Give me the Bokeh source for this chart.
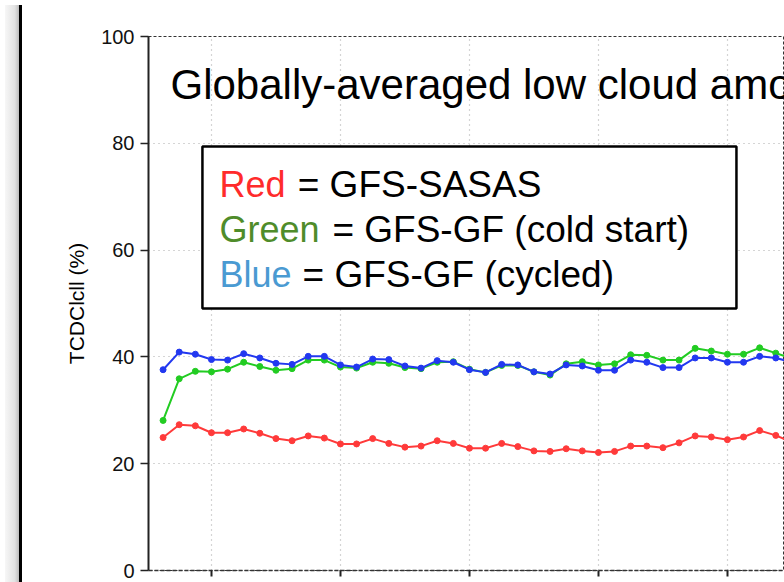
from bokeh.plotting import figure
from bokeh.models import Label, BoxAnnotation, FixedTicker, Div
from bokeh.layouts import row
from bokeh.embed import file_html
from bokeh.resources import INLINE

# data: 6-hourly steps (index), globally-averaged low cloud amount (%)
steps = list(range(40))
red = [24.9, 27.3, 27.1, 25.8, 25.8, 26.5, 25.7, 24.7, 24.3, 25.2,
       24.8, 23.7, 23.7, 24.7, 23.8, 23.1, 23.3, 24.3, 23.8, 22.9,
       22.9, 23.8, 23.2, 22.4, 22.3, 22.8, 22.4, 22.1, 22.3, 23.3,
       23.3, 23.0, 23.9, 25.2, 25.0, 24.5, 25.0, 26.2, 25.3, 24.0]
green = [28.1, 35.9, 37.3, 37.2, 37.7, 39.0, 38.2, 37.5, 37.8, 39.4,
         39.4, 38.1, 37.9, 39.0, 38.8, 38.0, 37.8, 39.0, 39.1, 37.7,
         37.1, 38.4, 38.4, 37.2, 36.6, 38.7, 39.1, 38.5, 38.7, 40.4,
         40.3, 39.4, 39.4, 41.6, 41.1, 40.5, 40.5, 41.7, 40.7, 39.7]
blue = [37.6, 40.9, 40.5, 39.5, 39.4, 40.6, 39.8, 38.8, 38.6, 40.1,
        40.1, 38.5, 38.1, 39.6, 39.5, 38.3, 37.9, 39.3, 39.0, 37.6,
        37.1, 38.6, 38.5, 37.2, 36.8, 38.5, 38.3, 37.5, 37.5, 39.4,
        39.0, 38.0, 38.0, 39.8, 39.8, 39.0, 39.0, 40.1, 39.8, 39.0]
x_ticks = [3, 11, 19, 27, 35]
y_ticks = [0, 20, 40, 60, 80, 100]

title_text = "Globally-averaged low cloud amount"
legend_words = ["Red", "Green", "Blue"]
legend_rest = ["= GFS-SASAS", "= GFS-GF (cold start)", "= GFS-GF (cycled)"]
legend_colors = ["#ff2b2b", "#4f8c2a", "#4a9ad2"]

p = figure(width=757, height=582, x_range=(-0.905, 38.54), y_range=(0, 100),
           output_backend="svg", toolbar_location=None,
           min_border_left=121, min_border_right=0, min_border_top=36,
           min_border_bottom=12)

p.outline_line_color = "#333333"
p.outline_line_dash = "3 2"
p.outline_line_width = 1

# axes
p.yaxis.ticker = FixedTicker(ticks=y_ticks)
p.yaxis.axis_line_color = "#222222"
p.yaxis.axis_line_width = 2
p.yaxis.major_tick_out = 8
p.yaxis.major_tick_in = 0
p.yaxis.major_tick_line_width = 1.5
p.yaxis.major_tick_line_color = "#222222"
p.yaxis.minor_tick_line_color = None
p.yaxis.major_label_text_font = "Liberation Sans"
p.yaxis.major_label_text_font_size = "20px"
p.yaxis.major_label_text_color = "#111111"
p.yaxis.major_label_standoff = 6
p.yaxis.axis_label = "TCDClcll (%)"
p.yaxis.axis_label_text_font = "Liberation Sans"
p.yaxis.axis_label_text_font_style = "normal"
p.yaxis.axis_label_text_font_size = "21px"
p.yaxis.axis_label_text_color = "#000000"
p.yaxis.axis_label_standoff = 10

p.xaxis.ticker = FixedTicker(ticks=x_ticks)
p.xaxis.major_label_overrides = {t: "" for t in x_ticks}
p.xaxis.major_label_text_font_size = "0px"
p.xaxis.major_label_standoff = 0
p.xaxis.axis_line_color = "#333333"
p.xaxis.axis_line_dash = "4 2"
p.xaxis.axis_line_width = 1.5
p.xaxis.major_tick_out = 6
p.xaxis.major_tick_in = 0
p.xaxis.major_tick_line_width = 2
p.xaxis.major_tick_line_color = "#222222"
p.xaxis.minor_tick_line_color = None

p.xgrid.ticker = FixedTicker(ticks=x_ticks)
p.ygrid.ticker = FixedTicker(ticks=y_ticks)
for g in (p.xgrid, p.ygrid):
    g.grid_line_color = "#aaaaaa"
    g.grid_line_dash = "1 4"
    g.grid_line_width = 1.2

# series
for vals, col in ((red, "#ff3a3a"), (green, "#22cc22"), (blue, "#2238f0")):
    p.line(steps, vals, line_color=col, line_width=2)
    p.scatter(steps, vals, size=6, fill_color=col, line_color=col)

# title
p.add_layout(Label(x=0.46, y=91.0, text=title_text, text_font="Liberation Sans",
                   text_font_size="42px", text_color="#000000",
                   text_baseline="alphabetic"))

# legend box
p.add_layout(BoxAnnotation(left=2.44, right=35.56, top=79.4, bottom=49.06,
                           fill_color="white", fill_alpha=1.0,
                           line_color="black", line_alpha=1.0, line_width=2.5))

word_x = 3.5
rest_x = [8.35, 10.5, 8.65]
base_y = [72.3, 63.85, 55.45]
for w, r, c, rx, by in zip(legend_words, legend_rest, legend_colors, rest_x, base_y):
    p.add_layout(Label(x=word_x, y=by, text=w, text_font="Liberation Sans",
                       text_font_size="36px", text_color=c,
                       text_baseline="alphabetic"))
    p.add_layout(Label(x=rx, y=by, text=r, text_font="Liberation Sans",
                       text_font_size="37px", text_color="#000000",
                       text_baseline="alphabetic"))

edge = Div(text="", width=17, height=582,
           styles={"background": "linear-gradient(to right, #f7f7f7 0%, #e2e2e2 70%, #bdbdbd 100%)",
                   "border-right": "3px solid #000000"})

layout = row(edge, p, spacing=0)

open("out.html", "w").write(file_html(layout, INLINE))
